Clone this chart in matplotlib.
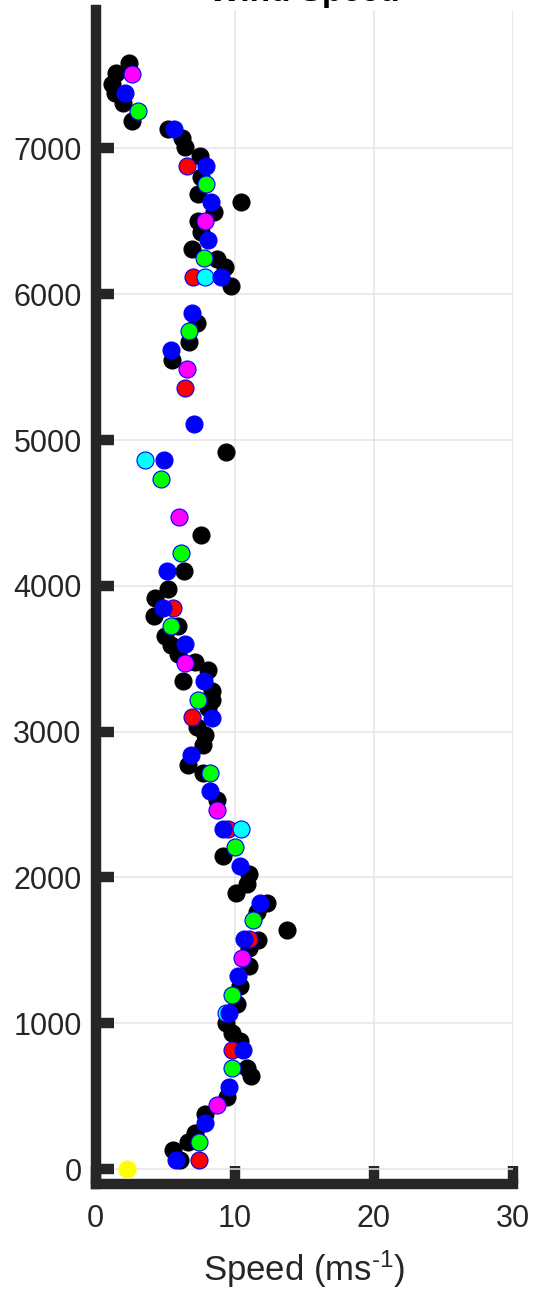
import matplotlib.pyplot as plt

plt.rcParams['font.family'] = ['Liberation Sans', 'DejaVu Sans']
plt.rcParams['mathtext.fontset'] = 'custom'
plt.rcParams['mathtext.rm'] = 'Liberation Sans'
plt.rcParams['mathtext.it'] = 'Liberation Sans:italic'

# wind speed (m/s) and height (m) for each sounding group
black_speed = [2.4, 1.5, 1.2, 1.4, 2.0, 2.6, 5.2, 6.2, 6.4, 7.5, 7.6, 7.4, 10.45, 8.5,
               7.4, 7.6, 6.9, 8.7, 9.3, 9.7, 7.3, 6.7, 5.5, 9.35, 7.55, 6.35, 5.2, 4.3,
               4.2, 5.95, 5.0, 5.4, 5.95, 7.15, 8.1, 6.3, 8.35, 8.4, 8.1, 7.3, 7.9, 7.7,
               6.65, 7.75, 8.7, 9.15, 11.0, 10.85, 10.1, 12.35, 11.6, 13.75, 11.7, 11.0,
               11.0, 10.4, 10.15, 9.4, 9.8, 10.35, 10.85, 11.2, 9.45, 7.85, 7.15, 6.65,
               5.6, 6.05]
black_height = [7585, 7515, 7445, 7380, 7310, 7190, 7135, 7070, 7010, 6950, 6805, 6685,
                6630, 6565, 6500, 6430, 6310, 6245, 6185, 6060, 5800, 5675, 5550, 4920,
                4350, 4100, 3975, 3920, 3790, 3725, 3655, 3595, 3530, 3475, 3420, 3345,
                3280, 3215, 3160, 3035, 2975, 2910, 2770, 2715, 2530, 2150, 2025, 1955,
                1890, 1825, 1765, 1640, 1570, 1515, 1390, 1255, 1135, 1000, 930, 875,
                690, 635, 495, 380, 250, 185, 130, 60]

red_speed = [6.6, 7.0, 6.45, 5.55, 6.9, 9.55, 11.05, 9.8, 7.45]
red_height = [6880, 6120, 5360, 3850, 3100, 2335, 1575, 815, 60]

cyan_speed = [7.9, 3.55, 10.45, 9.4]
cyan_height = [6120, 4860, 2335, 1070]

blue_speed = [2.1, 5.65, 7.95, 8.3, 8.05, 9.0, 6.9, 5.4, 7.1, 4.9, 5.15, 4.85, 6.4, 7.8,
              8.4, 6.85, 8.2, 9.15, 10.4, 11.8, 10.7, 10.25, 9.6, 10.6, 9.6, 7.85, 5.8]
blue_height = [7380, 7135, 6880, 6630, 6375, 6120, 5870, 5620, 5110, 4860, 4100, 3850,
               3600, 3345, 3095, 2840, 2590, 2335, 2080, 1825, 1575, 1325, 1070, 815,
               565, 315, 60]

green_speed = [3.05, 7.95, 7.8, 6.75, 4.7, 6.15, 5.4, 7.4, 8.2, 10.05, 11.35, 9.8, 9.8, 7.45]
green_height = [7260, 6755, 6250, 5745, 4730, 4225, 3725, 3215, 2715, 2210, 1705, 1195,
                690, 185]

magenta_speed = [2.65, 7.9, 6.55, 6.0, 6.4, 8.7, 10.55, 8.7]
magenta_height = [7510, 6500, 5490, 4475, 3470, 2465, 1450, 440]

yellow_speed = [2.25]
yellow_height = [0]

fig = plt.figure(figsize=(5.36, 12.93), dpi=100)
ax = fig.add_axes([0.1782, 0.0846, 0.7789, 0.9077])

ms = 150
ax.scatter(black_speed, black_height, s=ms, c='black', edgecolors='black',
           linewidths=0.8, zorder=3)
for spd, hgt, col in [(red_speed, red_height, 'red'),
                      (cyan_speed, cyan_height, 'cyan'),
                      (blue_speed, blue_height, 'blue'),
                      (green_speed, green_height, '#00ff00'),
                      (magenta_speed, magenta_height, 'magenta'),
                      (yellow_speed, yellow_height, 'yellow')]:
    ec = col if col == 'yellow' else 'blue'
    ax.scatter(spd, hgt, s=ms, c=col, edgecolors=ec, linewidths=0.8, zorder=4)

ax.set_xlim(0, 30)
ax.set_ylim(-100, 7950)
ax.set_xticks([0, 10, 20, 30])
ax.set_yticks(range(0, 8000, 1000))

dark = '#262626'
for side in ['top', 'right']:
    ax.spines[side].set_visible(False)
for side in ['left', 'bottom']:
    ax.spines[side].set_linewidth(7.5)
    ax.spines[side].set_color(dark)
    ax.spines[side].set_capstyle('projecting')

ax.tick_params(direction='in', length=13, width=7.5, color=dark,
               labelcolor=dark, labelsize=22)
ax.tick_params(axis='y', pad=10)
ax.tick_params(axis='x', pad=15)
ax.grid(True, color='#e4e4e4', linewidth=1.1, zorder=0)
ax.set_axisbelow(True)

ax.set_xlabel('Speed (ms$^{\\text{-1}}$)', fontsize=25, color=dark, labelpad=10)
ax.set_title('Wind Speed', fontsize=24, fontweight='bold', pad=6.5)

fig.savefig('out.png', dpi=100)
